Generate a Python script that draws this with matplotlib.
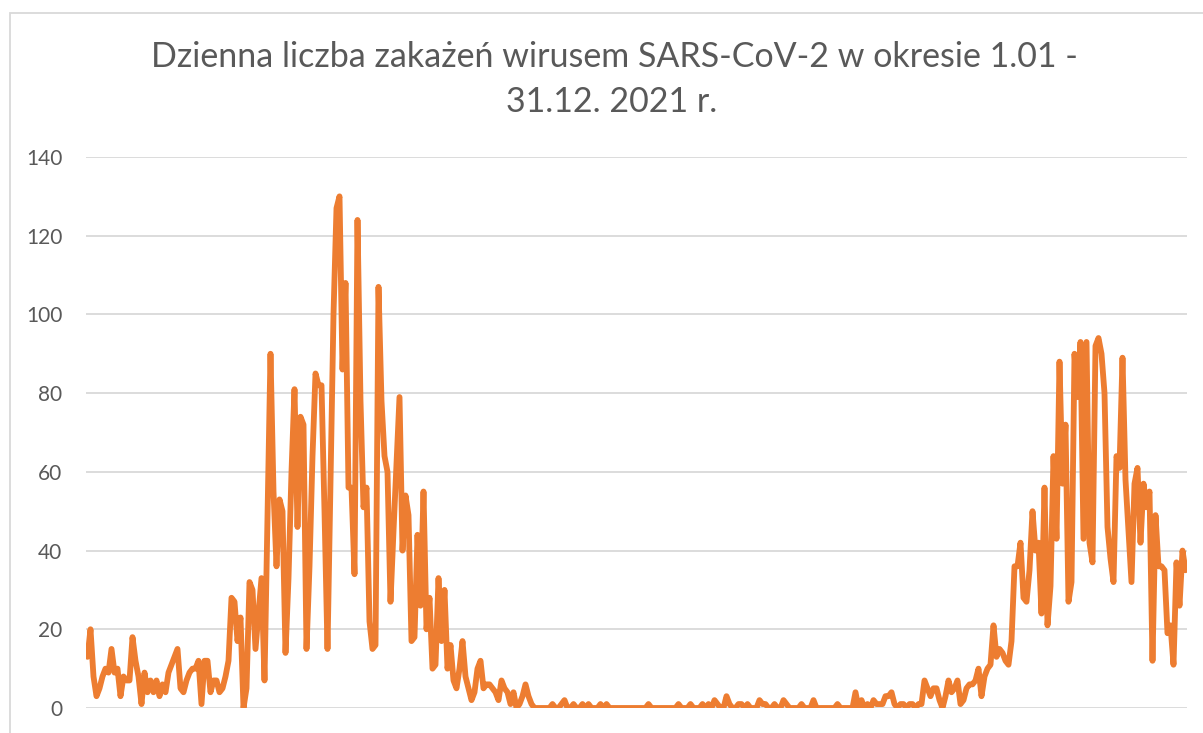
import matplotlib.pyplot as plt
from matplotlib.patches import Rectangle

plt.rcParams['font.family'] = ['Lato', 'DejaVu Sans']

# daily new infections, 1 Jan - 31 Dec 2021
jan = [13, 20, 8, 3, 5, 8, 10, 9, 15, 9, 10, 3, 8, 7, 7, 18, 12, 8, 1, 9,
       4, 7, 4, 7, 3, 6, 4, 9, 11, 13, 15]
feb = [5, 4, 7, 9, 10, 10, 12, 1, 12, 12, 4, 7, 7, 4, 5, 8, 12, 28, 27, 17,
       23, 0, 5, 32, 30, 15, 24, 33]
mar = [7, 48, 90, 55, 36, 53, 50, 14, 33, 60, 81, 46, 74, 72, 15, 36, 64, 85,
       82, 82, 50, 15, 58, 100, 127, 130, 86, 108, 56, 56, 34]
apr = [124, 78, 51, 56, 22, 15, 16, 107, 78, 64, 60, 27, 45, 62, 79, 40, 54,
       49, 17, 18, 44, 26, 55, 20, 28, 10, 11, 33, 17, 30]
may = [10, 16, 7, 5, 10, 17, 8, 5, 2, 4, 10, 12, 5, 6, 6, 5, 4, 2, 7, 5,
       4, 1, 4, 0, 1, 3, 6, 3, 1, 0, 0]
jun = [0, 0, 0, 0, 1, 0, 0, 1, 2, 0, 0, 1, 0, 0, 1, 0, 1, 0, 0, 0,
       1, 0, 1, 0, 0, 0, 0, 0, 0, 0]
jul = [0, 0, 0, 0, 0, 0, 1, 0, 0, 0, 0, 0, 0, 0, 0, 0, 1, 0, 0, 0,
       1, 0, 0, 0, 1, 0, 1, 0, 2, 1, 0]
aug = [0, 3, 1, 0, 0, 1, 1, 0, 1, 0, 0, 0, 2, 1, 1, 0, 0, 1, 0, 0,
       2, 1, 0, 0, 0, 0, 1, 0, 0, 0, 2]
sep = [0, 0, 0, 0, 0, 0, 0, 1, 0, 0, 0, 0, 0, 4, 0, 2, 0, 1, 0, 2,
       1, 1, 1, 3, 3, 4, 1, 0, 1, 1]
oct = [0, 1, 1, 0, 1, 1, 7, 5, 3, 5, 5, 2, 0, 3, 7, 4, 5, 7, 1, 2,
       5, 6, 6, 7, 10, 3, 8, 10, 11, 21, 13]
nov = [15, 14, 12, 11, 17, 36, 36, 42, 28, 27, 35, 50, 40, 42, 24, 56, 21,
       31, 64, 43, 88, 57, 72, 27, 32, 90, 79, 93, 43, 93]
dec = [42, 37, 92, 94, 90, 80, 46, 38, 32, 64, 61, 89, 58, 45, 32, 57, 61,
       42, 57, 51, 55, 12, 49, 36, 36, 35, 19, 21, 11, 37, 26, 40, 35]

cases = jan + feb + mar + apr + may + jun + jul + aug + sep + oct + nov + dec
days = list(range(len(cases)))

title_1 = "Dzienna liczba zakażeń wirusem SARS-CoV-2 w okresie 1.01 -"
title_2 = "31.12. 2021 r."
y_ticks = [0, 20, 40, 60, 80, 100, 120, 140]

W, H = 1203, 733
fig = plt.figure(figsize=(W / 100, H / 100), dpi=100)
ax = fig.add_axes([86 / W, 1 - 708 / H, (1187 - 86) / W, (708 - 157) / H])

ax.plot(days, cases, color="#ED7D31", linewidth=4.2,
        solid_joinstyle="round", solid_capstyle="round", zorder=3)

ax.set_xlim(-0.5, len(cases) - 0.5)
ax.set_ylim(0, 140)
ax.set_yticks(y_ticks)
ax.set_xticks([])
ax.grid(axis="y", color="#D9D9D9", linewidth=1.3)
ax.set_axisbelow(True)
for s in ax.spines.values():
    s.set_visible(False)
ax.tick_params(axis="y", length=0, pad=17, labelsize=15, labelcolor="#595959")
ax.patch.set_alpha(0)

# chart frame (right and bottom edges fall outside the picture)
fig.patches.append(Rectangle((10 / W, -0.1), 1.2, 1 - 12.5 / H + 0.1,
                             transform=fig.transFigure, fill=False,
                             edgecolor="#D9D9D9", linewidth=1.3))

fig.text(614 / W, 1 - 67 / H, title_1, ha="center", va="baseline",
         fontsize=24.5, color="#595959")
fig.text(612 / W, 1 - 112 / H, title_2, ha="center", va="baseline",
         fontsize=24.5, color="#595959")

fig.savefig("out.png", dpi=100)
